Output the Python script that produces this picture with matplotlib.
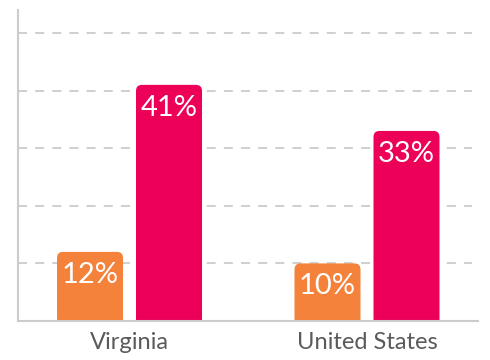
import matplotlib
matplotlib.use("Agg")
import matplotlib.pyplot as plt
from matplotlib.patches import FancyBboxPatch

categories = ["Virginia", "United States"]
series_a = [12, 10]
series_b = [41, 33]
color_a = "#F5823A"
color_b = "#EC0058"

plt.rcParams['font.family'] = ['Lato', 'DejaVu Sans']

fig = plt.figure(figsize=(4.9, 3.6), dpi=100)
ax = fig.add_axes([18/490, 39/360, 460/490, 311/360])
ax.set_xlim(-0.4695, 1.4674)
ax.set_ylim(0, 0.54)

width = 66/237.5
off = 79/2/237.5
x = list(range(len(categories)))

for y in [0.1, 0.2, 0.3, 0.4, 0.5]:
    ax.axhline(y, xmin=0, xmax=(472-18)/460, color="#cccccc", lw=1.3,
               dashes=(5, 4.5), zorder=0)

aspect = (1/576)/(1/237.5)
r = 6/237.5
for vals, col, sgn in [(series_a, color_a, -1), (series_b, color_b, 1)]:
    bars = ax.bar([xi + sgn*off for xi in x], [v/100 for v in vals], width=width,
                  color=col, alpha=0)
    for b, v in zip(bars, vals):
        p = FancyBboxPatch((b.get_x(), -0.05), b.get_width(), b.get_height()+0.05,
                           boxstyle=f"round,pad=0,rounding_size={r}",
                           mutation_aspect=aspect, fc=col, ec="none", zorder=2)
        ax.add_patch(p)
        ax.text(b.get_x()+b.get_width()/2, b.get_height()-0.040, f"{v}%",
                ha="center", va="center", color="white", fontsize=21, zorder=3)

ax.set_xticks(x)
ax.set_xticklabels(categories, fontsize=17, color="#5a5a5a")
ax.tick_params(axis="x", length=0, pad=8)
ax.set_yticks([])
for s in ["top", "right"]:
    ax.spines[s].set_visible(False)
for s in ["left", "bottom"]:
    ax.spines[s].set_color("#cccccc")
    ax.spines[s].set_linewidth(1.5)
    ax.spines[s].set_zorder(4)

fig.savefig("out.png", dpi=100)
